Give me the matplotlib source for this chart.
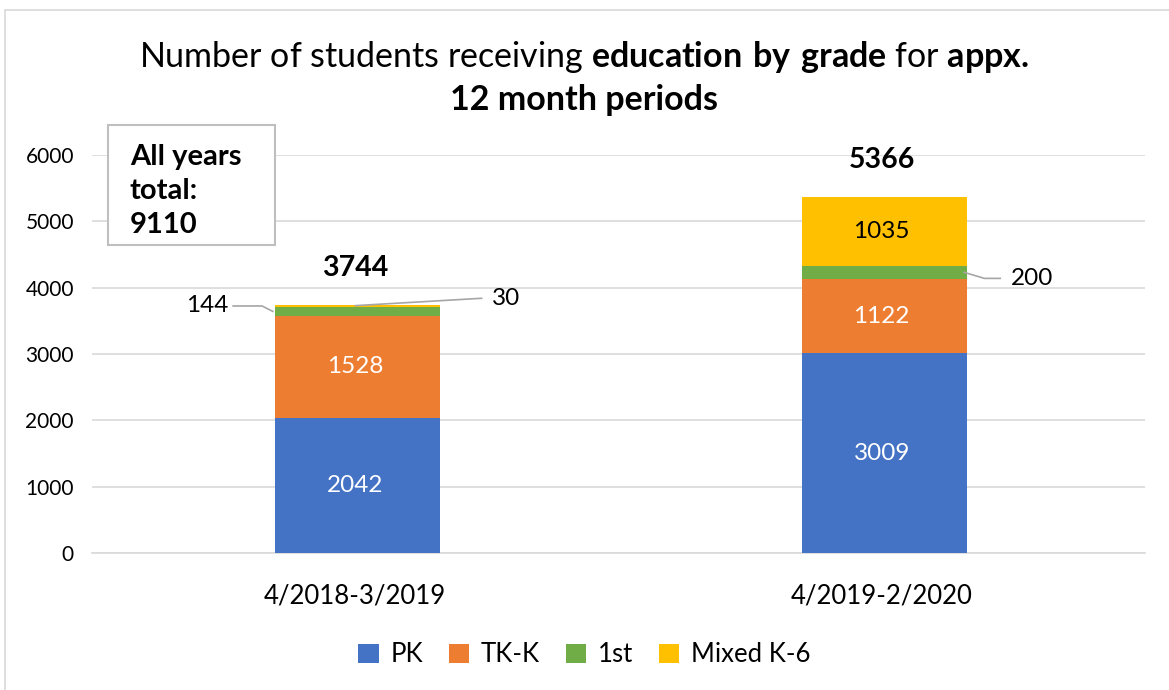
import numpy as np
import matplotlib
matplotlib.use("Agg")
import matplotlib.pyplot as plt
from matplotlib.patches import Rectangle

plt.rcParams['font.family'] = ['Lato', 'DejaVu Sans']
plt.rcParams['mathtext.fontset'] = 'custom'
plt.rcParams['mathtext.rm'] = 'Lato'
plt.rcParams['mathtext.bf'] = 'Lato:bold'

periods = ['4/2018-3/2019', '4/2019-2/2020']
grades = ['PK', 'TK-K', '1st', 'Mixed K-6']
pk = [2042, 3009]
tkk = [1528, 1122]
first = [144, 200]
mixed = [30, 1035]
totals = [3744, 5366]
all_total = 9110

colors = ['#4472C4', '#ED7D31', '#70AD47', '#FFC000']

fig = plt.figure(figsize=(11.69, 6.9), dpi=100)
ax = fig.add_axes([92 / 1169, 1 - 553 / 690, 1053 / 1169, 398 / 690])

x = np.arange(len(periods))
w = 0.313
series = [pk, tkk, first, mixed]
bottom = np.zeros(len(periods))
for vals, c, name in zip(series, colors, grades):
    ax.bar(x + 0.005, vals, w, bottom=bottom, color=c, label=name, zorder=3)
    bottom = bottom + np.array(vals)

ax.set_xlim(-0.5, 1.5)
ax.set_ylim(0, 6000)
ax.set_yticks(range(0, 6001, 1000))
ax.set_xticks(x)
ax.set_xticklabels(periods, fontsize=18.5)
ax.tick_params(axis='y', length=0, pad=13, labelsize=15)
ax.tick_params(axis='x', length=0, pad=22)
ax.grid(axis='y', color='#D9D9D9', linewidth=1.2, zorder=0)
for s in ['top', 'right', 'left']:
    ax.spines[s].set_visible(False)
ax.spines['bottom'].set_color('#D9D9D9')
ax.spines['bottom'].set_linewidth(1.2)

# labels inside the bars
fs = 17.5
for i in range(len(periods)):
    ax.text(x[i], pk[i] / 2, str(pk[i]), ha='center', va='center', color='white', fontsize=fs, zorder=4)
    ax.text(x[i], pk[i] + tkk[i] / 2, str(tkk[i]), ha='center', va='center', color='white', fontsize=fs, zorder=4)
ax.text(x[1], pk[1] + tkk[1] + first[1] + mixed[1] / 2, str(mixed[1]), ha='center', va='center',
        color='black', fontsize=fs, zorder=4)

# small labels with leader lines
lc = '#A6A6A6'
y144 = pk[0] + tkk[0] + first[0] / 2
ax.plot([x[0] - w / 2, x[0] - 0.177, x[0] - 0.232], [y144, 3724, 3724], color=lc, lw=1.2, zorder=5)
ax.text(x[0] - 0.24, 3724, str(first[0]), ha='right', va='center', fontsize=fs)

y30 = totals[0] - mixed[0] / 2
ax.plot([x[0], x[0] + 0.24], [y30, 3840], color=lc, lw=1.2, zorder=5)
ax.text(x[0] + 0.26, 3840, str(mixed[0]), ha='left', va='center', fontsize=fs)

y200 = pk[1] + tkk[1] + first[1] / 2
ax.plot([x[1] + w / 2, x[1] + 0.195, x[1] + 0.225], [y200, 4140, 4140], color=lc, lw=1.2, zorder=5)
ax.text(x[1] + 0.245, 4140, str(first[1]), ha='left', va='center', fontsize=fs)

# totals
ax.text(x[0], 4290, str(totals[0]), ha='center', va='center', fontsize=20.5, fontweight='bold')
ax.text(x[1], 5920, str(totals[1]), ha='center', va='center', fontsize=20.5, fontweight='bold')

# title
fig.text(0.5, 1 - 57 / 690, r'Number of students receiving $\bf{education\ by\ grade}$ for $\bf{appx.}$',
         ha='center', va='center', fontsize=24.5)
fig.text(0.5, 1 - 100 / 690, '12 month periods', ha='center', va='center', fontsize=24.5, fontweight='bold')

# all years total box
fig.patches.append(Rectangle((108 / 1169, 1 - 245 / 690), 167 / 1169, 120 / 690,
                             transform=fig.transFigure, facecolor='white', edgecolor='#BFBFBF',
                             linewidth=1.5, zorder=10))
fig.text(130 / 1169, 1 - 191 / 690, 'All years\ntotal:\n' + str(all_total), ha='left', va='center',
         fontsize=21, fontweight='bold', linespacing=1.4, zorder=11)

# chart border
fig.patches.append(Rectangle((5 / 1169, -0.01), 1.02, 1 - 10 / 690 + 0.01, transform=fig.transFigure,
                             fill=False, edgecolor='#D9D9D9', linewidth=1.2))

fig.legend(loc='center', bbox_to_anchor=(0.5, 1 - 655 / 690), ncol=4, frameon=False, fontsize=18.5,
           handlelength=0.8, handleheight=0.8, columnspacing=1.0, handletextpad=0.45)

fig.savefig('out.png', dpi=100)
